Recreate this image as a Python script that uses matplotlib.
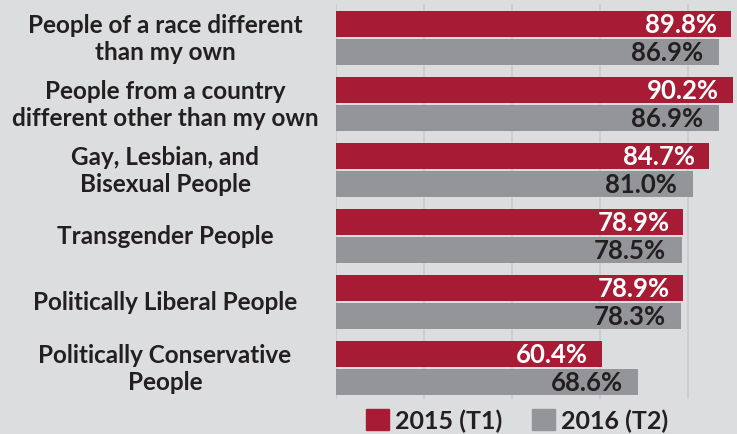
import matplotlib
matplotlib.use('Agg')
import matplotlib.pyplot as plt
from matplotlib.patches import Patch
import matplotlib.transforms as mtransforms
import numpy as np

categories = [
    "People of a race different\nthan my own",
    "People from a country\ndifferent other than my own",
    "Gay, Lesbian, and\nBisexual People",
    "Transgender People",
    "Politically Liberal People",
    "Politically Conservative\nPeople",
]
values_2015 = [89.8, 90.2, 84.7, 78.9, 78.9, 60.4]
values_2016 = [86.9, 86.9, 81.0, 78.5, 78.3, 68.6]
series_names = ["2015 (T1)", "2016 (T2)"]

bg = "#dcdddf"
red = "#a71b34"
gray = "#939598"
dark = "#231f20"

plt.rcParams['font.family'] = ['Lato', 'DejaVu Sans']

fig = plt.figure(figsize=(7.37, 4.35), dpi=100, facecolor=bg)
ax = fig.add_axes([336 / 737, 35 / 435, 1 - 336 / 737, 395 / 435])
ax.set_facecolor(bg)

y = np.arange(len(categories))
h = 0.386
off = 0.213
ax.barh(y - off, values_2015, height=h, color=red, zorder=3)
ax.barh(y + off, values_2016, height=h, color=gray, zorder=3)

for yi, v in zip(y, values_2015):
    ax.annotate(f"{v:.1f}%", (v, yi - off), xytext=(-10, 0),
                textcoords='offset points', ha='right', va='center',
                color='white', fontsize=18.5, fontweight='bold', zorder=4)
for yi, v in zip(y, values_2016):
    ax.annotate(f"{v:.1f}%", (v, yi + off), xytext=(-11, 0),
                textcoords='offset points', ha='right', va='center',
                color=dark, fontsize=18.5, fontweight='bold', zorder=4)

ax.set_xlim(0, 91.1)
ax.set_ylim(5.47, -0.515)
ax.set_xticks([0, 20, 40, 60, 80])
ax.grid(axis='x', color='#c9cacc', lw=1.2, zorder=0)
ax.tick_params(left=False, bottom=False, labelleft=False, labelbottom=False)
for s in ax.spines.values():
    s.set_visible(False)

trans = mtransforms.blended_transform_factory(fig.transFigure, ax.transData)
for yi, lab in zip(y, categories):
    ax.text(165 / 737, yi, lab, transform=trans, ha='center', va='center',
            multialignment='center', fontsize=17.5, fontweight='bold',
            color=dark, linespacing=1.2)

handles = [Patch(color=red), Patch(color=gray)]
fig.legend(handles, series_names, loc='center', bbox_to_anchor=(517 / 737, 14 / 435),
           ncol=2, frameon=False, handlelength=0.9, handleheight=0.9,
           handletextpad=0.25, columnspacing=1.2, borderpad=0,
           prop={'weight': 'bold', 'size': 18}, labelcolor=dark)

fig.savefig("out.png", dpi=100, facecolor=bg)
